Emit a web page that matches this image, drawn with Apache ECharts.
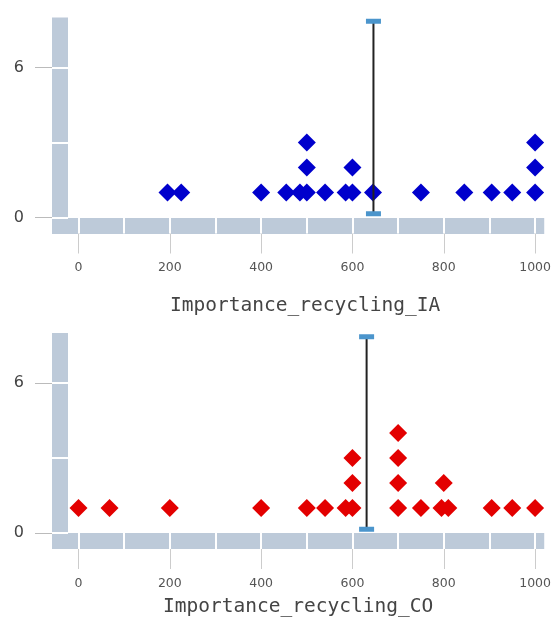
<!DOCTYPE html>
<html>
<head>
<meta charset="utf-8">
<script src="https://cdn.jsdelivr.net/npm/echarts@6/dist/echarts.min.js"></script>
<style>
  html, body { margin: 0; padding: 0; background: #ffffff; }
  #chart { width: 554px; height: 627px; }
</style>
</head>
<body>
<div id="chart"></div>
<script>
// ---- Data ----
// Importance_recycling_IA (blue): x value and stack level of each dot
const iaX = [195, 225, 400, 455, 485, 500, 540, 585, 600, 645, 750, 845, 905, 950, 1000, 500, 600, 1000, 500, 1000];
const iaY = [1, 1, 1, 1, 1, 1, 1, 1, 1, 1, 1, 1, 1, 1, 1, 2, 2, 2, 3, 3];
// Importance_recycling_CO (red)
const coX = [0, 68, 200, 400, 500, 540, 585, 600, 700, 750, 795, 810, 905, 950, 1000, 600, 700, 800, 600, 700, 700];
const coY = [1, 1, 1, 1, 1, 1, 1, 1, 1, 1, 1, 1, 1, 1, 1, 2, 2, 2, 3, 3, 4];
// Mean markers
const iaMean = 646;
const coMean = 631;
const meanSpan = [0.15, 7.85];
// Axis ticks
const xTickLabels = [0, 200, 400, 600, 800, 1000];
const xStripBreaks = [0, 100, 200, 300, 400, 500, 600, 700, 800, 900, 1000];
const yTickLabels = [0, 6];
const yStripBreaks = [0, 3, 6];
const xNames = ['Importance_recycling_IA', 'Importance_recycling_CO'];

const STRIP = '#bdcad9';
const X_MIN = -58, X_MAX = 1020, Y_MIN = 0, Y_MAX = 8;

function labelX(g, name, gap, pad) {
  return {
    type: 'value', gridIndex: g, min: X_MIN, max: X_MAX, position: 'bottom', offset: 8, z: 0,
    axisLine: { show: true, onZero: false, lineStyle: { color: STRIP, width: 16, cap: 'butt' } },
    axisTick: { show: true, customValues: xTickLabels, length: 28, lineStyle: { color: '#cccccc', width: 1 } },
    axisLabel: { customValues: xTickLabels, margin: 36, fontSize: 12.5, color: '#555', fontFamily: 'DejaVu Sans',
                 formatter: function (v) { return String(v); } },
    splitLine: { show: false },
    name: name, nameLocation: 'middle', nameGap: gap,
    nameTextStyle: { fontFamily: 'DejaVu Sans Mono', fontSize: 19.5, color: '#444', padding: pad }
  };
}
function stripX(g) {
  return {
    type: 'value', gridIndex: g, min: X_MIN, max: X_MAX, position: 'bottom', offset: 0, z: 1,
    axisLine: { show: false, onZero: false },
    axisTick: { show: true, customValues: xStripBreaks, inside: false, length: 16, lineStyle: { color: '#ffffff', width: 2 } },
    axisLabel: { show: false }, splitLine: { show: false }
  };
}
function labelY(g) {
  return {
    type: 'value', gridIndex: g, min: Y_MIN, max: Y_MAX, position: 'left', offset: -8, z: 0,
    axisLine: { show: true, onZero: false, lineStyle: { color: STRIP, width: 16, cap: 'butt' } },
    axisTick: { show: true, customValues: yTickLabels, length: 25, lineStyle: { color: '#bbbbbb', width: 1 } },
    axisLabel: { customValues: yTickLabels, margin: 36, fontSize: 16, color: '#444', fontFamily: 'DejaVu Sans',
                 formatter: function (v) { return String(v); } },
    splitLine: { show: false }
  };
}
function stripY(g) {
  return {
    type: 'value', gridIndex: g, min: Y_MIN, max: Y_MAX, position: 'left', offset: 0, z: 1,
    axisLine: { show: false, onZero: false },
    axisTick: { show: true, customValues: yStripBreaks, inside: true, length: 16, lineStyle: { color: '#ffffff', width: 2 } },
    axisLabel: { show: false }, splitLine: { show: false }
  };
}
function dots(xs, ys) { return xs.map((x, i) => [x, ys[i]]); }

const chart = echarts.init(document.getElementById('chart'));
chart.setOption({
  animation: false,
  grid: [
    { left: 52, top: 17.5, width: 498, height: 200 },
    { left: 52, top: 333, width: 498, height: 200 }
  ],
  xAxis: [labelX(0, xNames[0], 70, [0, 0, 0, 14]), stripX(0), labelX(1, xNames[1], 56, 0), stripX(1)],
  yAxis: [labelY(0), stripY(0), labelY(1), stripY(1)],
  series: [
    { type: 'scatter', xAxisIndex: 0, yAxisIndex: 0, data: dots(iaX, iaY), symbol: 'diamond', symbolSize: 18,
      itemStyle: { color: '#0000cc', opacity: 1 }, z: 3 },
    { type: 'line', xAxisIndex: 0, yAxisIndex: 0, data: [[iaMean, meanSpan[0]], [iaMean, meanSpan[1]]],
      symbol: 'rect', symbolSize: [15, 5], itemStyle: { color: '#4b95cc' }, lineStyle: { color: '#222', width: 2 }, z: 4 },
    { type: 'scatter', xAxisIndex: 2, yAxisIndex: 2, data: dots(coX, coY), symbol: 'diamond', symbolSize: 18,
      itemStyle: { color: '#e30000', opacity: 1 }, z: 3 },
    { type: 'line', xAxisIndex: 2, yAxisIndex: 2, data: [[coMean, meanSpan[0]], [coMean, meanSpan[1]]],
      symbol: 'rect', symbolSize: [15, 5], itemStyle: { color: '#4b95cc' }, lineStyle: { color: '#222', width: 2 }, z: 4 }
  ]
});
</script>
</body>
</html>
